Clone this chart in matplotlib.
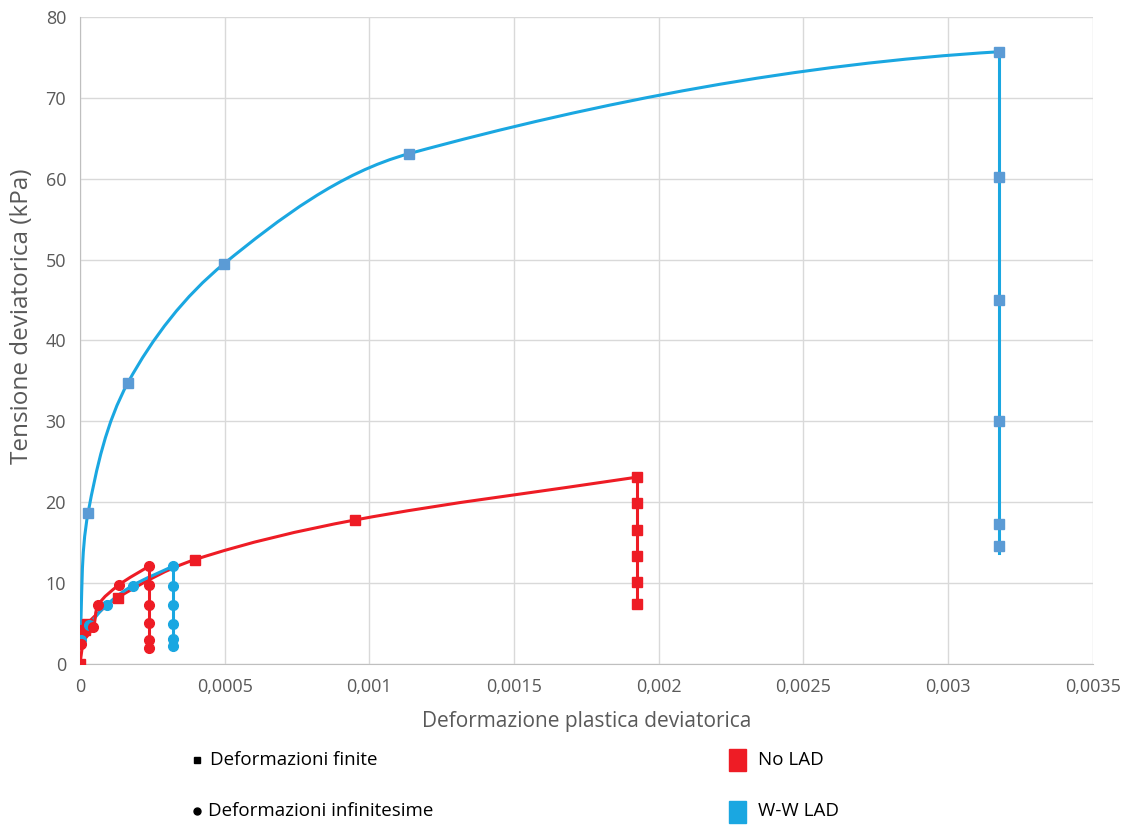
import numpy as np
import matplotlib
matplotlib.use('Agg')
import matplotlib.pyplot as plt
from matplotlib.path import Path
from matplotlib.patches import PathPatch, Rectangle
from matplotlib.lines import Line2D

plt.rcParams['font.family'] = ['Open Sans', 'DejaVu Sans']

# No LAD - deformazioni finite (curve + vertical unloading)
red_fin_x = [0.0, 0.000017, 0.000025, 0.00013, 0.000397, 0.00095, 0.001925]
red_fin_y = [0.0, 4.2, 5.0, 8.2, 12.9, 17.8, 23.1]
red_fin_vx = [0.001925] * 6
red_fin_vy = [23.1, 19.9, 16.6, 13.3, 10.1, 7.4]

# No LAD - deformazioni infinitesime
red_inf_x = [0.000004, 0.000046, 0.000063, 0.000136, 0.000239]
red_inf_y = [2.5, 4.6, 7.3, 9.8, 12.1]
red_inf_vx = [0.000239] * 6
red_inf_vy = [12.1, 9.8, 7.3, 5.1, 3.0, 2.0]

# W-W LAD - deformazioni finite
blue_fin_x = [0.0, 0.000028, 0.000166, 0.000498, 0.001137, 0.003176]
blue_fin_y = [3.0, 18.7, 34.8, 49.5, 63.1, 75.7]
blue_fin_vx = [0.003176] * 7
blue_fin_vy = [75.7, 60.2, 45.0, 30.0, 17.3, 14.6, 13.7]

# W-W LAD - deformazioni infinitesime
blue_inf_x = [0.000005, 0.000032, 0.000092, 0.000182, 0.000322]
blue_inf_y = [3.0, 4.8, 7.3, 9.7, 12.1]
blue_inf_vx = [0.000322] * 6
blue_inf_vy = [12.1, 9.7, 7.3, 5.0, 3.1, 2.2]

xticks = [0, 0.0005, 0.001, 0.0015, 0.002, 0.0025, 0.003, 0.0035]
xlabels = ['0', '0,0005', '0,001', '0,0015', '0,002', '0,0025', '0,003', '0,0035']

RED = '#EE1C25'
BLUE = '#1AA7E1'
BLUE_SQ = '#5B9BD5'

SX = 1013 / 0.0035  # px per x unit, used only to shape the smoothing
SY = 647 / 80


def smooth_path(xs, ys, flat_end=False):
    # smoothed line through the points (cubic Bezier, chord-scaled tangents)
    p = np.column_stack([np.array(xs) * SX, np.array(ys) * SY])
    n = len(p)
    tang = np.zeros_like(p)
    for i in range(n):
        a = p[max(i - 1, 0)]
        b = p[min(i + 1, n - 1)]
        d = b - a
        tang[i] = d / np.hypot(*d)
    if flat_end:
        tang[-1] = np.array([1.0, 0.06]) / np.hypot(1.0, 0.06)
    verts = [p[0]]
    codes = [Path.MOVETO]
    for i in range(n - 1):
        L = np.hypot(*(p[i + 1] - p[i])) / 3
        verts += [p[i] + tang[i] * L, p[i + 1] - tang[i + 1] * L, p[i + 1]]
        codes += [Path.CURVE4] * 3
    verts = np.array(verts) / [SX, SY]
    return Path(verts, codes)


fig = plt.figure(figsize=(11.3, 8.25), dpi=100)
ax = fig.add_axes([0.0708, 0.1952, 0.8962, 0.7842])

series = [
    (red_fin_x, red_fin_y, red_fin_vx, red_fin_vy, RED, RED, 's'),
    (blue_fin_x, blue_fin_y, blue_fin_vx, blue_fin_vy, BLUE, BLUE_SQ, 's'),
    (blue_inf_x, blue_inf_y, blue_inf_vx, blue_inf_vy, BLUE, BLUE, 'o'),
    (red_inf_x, red_inf_y, red_inf_vx, red_inf_vy, RED, RED, 'o'),
]
for x, y, vx, vy, lc, mc, m in series:
    flat = mc == BLUE_SQ
    ax.add_patch(PathPatch(smooth_path(x, y, flat), fill=False, edgecolor=lc, lw=2.2, zorder=3))
    ax.plot(vx, vy, color=lc, lw=2.2, zorder=3)
    mx = x + vx[1:]
    my = y + vy[1:]
    if mc == BLUE_SQ:
        mx = x[1:] + vx[1:-1]
        my = y[1:] + vy[1:-1]
    ax.plot(mx, my, ls='none', marker=m, ms=7, color=mc, zorder=4)

ax.set_xlim(0, 0.0035)
ax.set_ylim(0, 80)
ax.set_xticks(xticks)
ax.set_xticklabels(xlabels)
ax.set_yticks(range(0, 81, 10))
ax.grid(True, color='#D9D9D9', lw=1)
ax.set_axisbelow(True)
for s in ['top', 'right']:
    ax.spines[s].set_visible(False)
for s in ['left', 'bottom']:
    ax.spines[s].set_color('#BFBFBF')
ax.tick_params(length=0, labelsize=13, labelcolor='#595959', pad=10)
ax.set_xlabel('Deformazione plastica deviatorica', fontsize=15, color='#595959', labelpad=11)
ax.set_ylabel('Tensione deviatorica (kPa)', fontsize=17.5, color='#595959')
ax.yaxis.set_label_coords(-0.045, 0.538)

# legend
fig.add_artist(Line2D([0.1745], [0.079], marker='s', ms=5, color='black', transform=fig.transFigure))
fig.add_artist(Line2D([0.1745], [0.017], marker='o', ms=5, color='black', transform=fig.transFigure))
fig.text(0.186, 0.079, 'Deformazioni finite', fontsize=13.5, va='center', color='black')
fig.text(0.184, 0.017, 'Deformazioni infinitesime', fontsize=13.5, va='center', color='black')
fig.patches.append(Rectangle((0.645, 0.065), 0.015, 0.027, transform=fig.transFigure, color=RED, figure=fig))
fig.patches.append(Rectangle((0.645, 0.002), 0.015, 0.027, transform=fig.transFigure, color=BLUE, figure=fig))
fig.text(0.671, 0.079, 'No LAD', fontsize=13.5, va='center', color='black')
fig.text(0.671, 0.017, 'W-W LAD', fontsize=13.5, va='center', color='black')

fig.savefig('out.png', dpi=100)
